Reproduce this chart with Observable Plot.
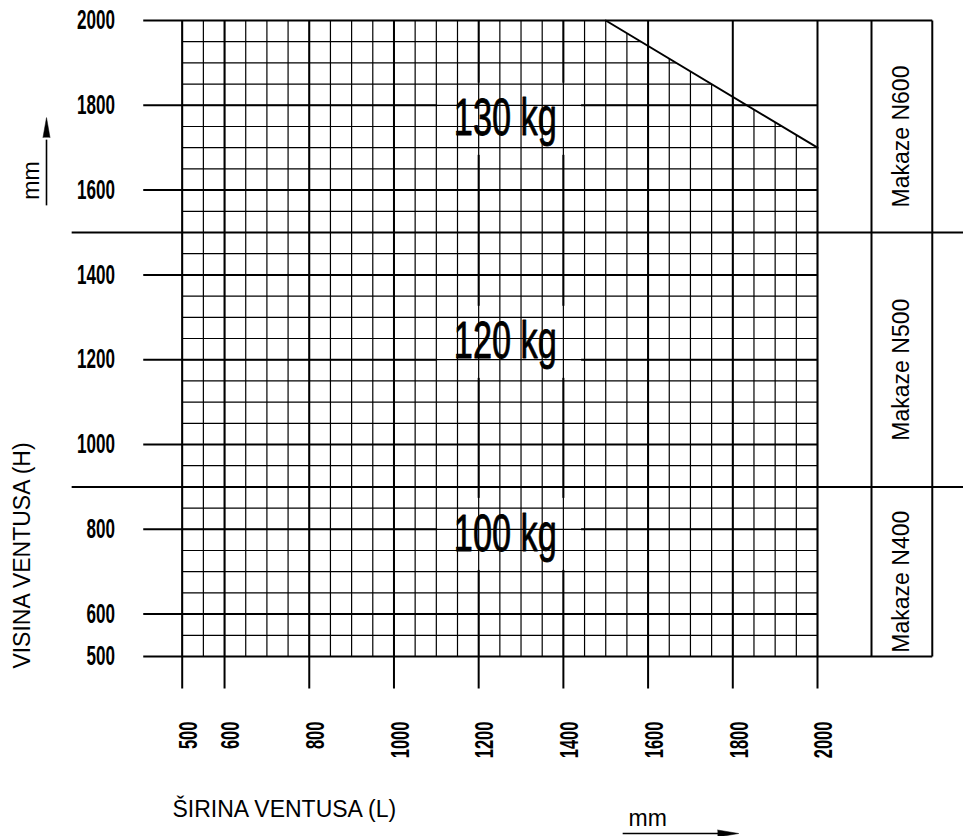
<!DOCTYPE html>
<html><head><meta charset="utf-8">
<script src="https://cdn.jsdelivr.net/npm/d3@7"></script>
<script src="https://cdn.jsdelivr.net/npm/@observablehq/plot@0.6"></script>
<style>body{margin:0;background:#fff} svg{display:block}</style>
</head><body><div id="chart"></div>
<script>
// ---- data ----
const xTicks = [500, 600, 800, 1000, 1200, 1400, 1600, 1800, 2000];
const yTicks = [500, 600, 800, 1000, 1200, 1400, 1600, 1800, 2000];
const gridStep = 50;
const limitLine = [{x: 1500, y: 2000}, {x: 2000, y: 1700}];
const loadLabels = ["130 kg", "120 kg", "100 kg"];
const loadLabelX = [1263, 1263, 1263];
const loadLabelY = [1729, 1203, 750];
const models = ["Makaze N600", "Makaze N500", "Makaze N400"];
const modelLow = [1500, 900, 500];
const modelHigh = [2000, 1500, 900];
const separators = [1500, 900];
const xTitle = "ŠIRINA VENTUSA (L)";
const yTitle = "VISINA VENTUSA (H)";
const unit = "mm";

// ---- derived structure ----
const [xMin, xMax] = [500, 2000], [yMin, yMax] = [500, 2000];
const boxX1 = 2127.5, boxX2 = 2271;     // Makaze column (mm, beyond 2000)
const leftExt = 408, sepLeft = 239, sepRight = 2360, tickBottom = 424.5;
const slope = (limitLine[1].y - limitLine[0].y) / (limitLine[1].x - limitLine[0].x);
const yLimit = x => x <= limitLine[0].x ? yMax : limitLine[0].y + (x - limitLine[0].x) * slope;
const xLimit = y => y <= limitLine[1].y ? xMax : limitLine[0].x + (y - limitLine[0].y) / slope;

const minorV = d3.range(xMin, xMax + 1, gridStep).map(v => ({x1: v, x2: v, y1: yMin, y2: yLimit(v)}));
const minorH = d3.range(yMin, yMax + 1, gridStep).map(h => ({x1: xMin, x2: xLimit(h), y1: h, y2: h}));
const majorV = xTicks.map(v => ({x1: v, x2: v, y1: tickBottom, y2: yMax}));
const majorH = yTicks.map(h => ({x1: leftExt, x2: (h === yMin || h === yMax) ? boxX2 : xMax, y1: h, y2: h}));
const sepData = separators.map(h => ({x1: sepLeft, x2: sepRight, y1: h, y2: h}));
const boxV = [boxX1, boxX2].map(v => ({x1: v, x2: v, y1: yMin, y2: yMax}));
const loads = loadLabels.map((t, i) => ({t, x: loadLabelX[i], y: loadLabelY[i]}));
const modelData = models.map((t, i) => ({t, x: (boxX1 + boxX2) / 2, y: (modelLow[i] + modelHigh[i]) / 2}));

// unit arrows (mm in chart coordinates, outside the frame)
const arrowX = {y: 82.5, x1: 1540, tip: 1814, base: 1764, half: 8.3};
const arrowY = {x: 179.6, y1: 1564, tip: 1771, base: 1724, half: 8.3};

const narrow = "'Liberation Sans Narrow','Arial Narrow','Liberation Sans',Arial,sans-serif";
const sans = "'Liberation Sans',Arial,Helvetica,sans-serif";

const chart = Plot.plot({
  width: 963, height: 836,
  marginLeft: 181.7, marginRight: 146, marginTop: 20, marginBottom: 180,
  x: {domain: [xMin, xMax], axis: null},
  y: {domain: [yMin, yMax], axis: null},
  style: {background: "#fff", fontFamily: sans, overflow: "visible"},
  marks: [
    Plot.link(majorV, {x1: "x1", x2: "x2", y1: "y1", y2: "y2", stroke: "#000", strokeWidth: 2}),
    Plot.link(majorH, {x1: "x1", x2: "x2", y1: "y1", y2: "y2", stroke: "#000", strokeWidth: 2}),
    Plot.link(sepData, {x1: "x1", x2: "x2", y1: "y1", y2: "y2", stroke: "#000", strokeWidth: 2}),
    Plot.link(boxV, {x1: "x1", x2: "x2", y1: "y1", y2: "y2", stroke: "#000", strokeWidth: 2}),
    Plot.rect(loads, {x1: 1103, x2: 1443, y1: d => d.y - 47, y2: d => d.y + 123, fill: "#fff"}),
    Plot.link(minorV, {x1: "x1", x2: "x2", y1: "y1", y2: "y2", stroke: "#000", strokeWidth: 1.2}),
    Plot.link(minorH, {x1: "x1", x2: "x2", y1: "y1", y2: "y2", stroke: "#000", strokeWidth: 1.2}),
    Plot.line(limitLine, {x: "x", y: "y", stroke: "#000", strokeWidth: 2}),
    Plot.text(loads, {x: "x", y: "y", text: "t", fontSize: 51, fontFamily: narrow,
      textAnchor: "middle", lineAnchor: "bottom", fill: "#000", stroke: "#000", strokeWidth: 0.8}),
    Plot.text(modelData, {x: "x", y: "y", text: "t", rotate: -90, dy: 10, fontSize: 23,
      textAnchor: "middle", lineAnchor: "middle", fill: "#000"}),
    Plot.text(yTicks, {y: d => d, text: d => String(d), frameAnchor: "left", dx: -67.2,
      textAnchor: "end", lineAnchor: "middle", fontSize: 27, fontWeight: "bold", fontFamily: narrow,
      fill: "#000"}),
    Plot.text(xTicks, {x: d => d, text: d => String(d), frameAnchor: "bottom", dy: 65, dx: -3,
      rotate: -90, textAnchor: "end", lineAnchor: "top", fontSize: 25, fontWeight: "bold",
      fontFamily: narrow, fill: "#000"}),
    Plot.text([yTitle], {text: d => d, frameAnchor: "bottom-left", dx: -159.2, dy: -101, rotate: -90,
      textAnchor: "middle", lineAnchor: "middle", fontSize: 23, fill: "#000"}),
    Plot.text([xTitle], {text: d => d, frameAnchor: "bottom-left", dx: -9.7, dy: 160,
      textAnchor: "start", lineAnchor: "bottom", fontSize: 23, fill: "#000"}),
    Plot.text([unit], {text: d => d, frameAnchor: "bottom-left", dx: 446.3, dy: 169,
      textAnchor: "start", lineAnchor: "bottom", fontSize: 23, fill: "#000"}),
    Plot.text([unit], {text: d => d, frameAnchor: "top-left", dx: -143.7, dy: 160, rotate: -90,
      textAnchor: "middle", lineAnchor: "bottom", fontSize: 23, fill: "#000"}),
    // unit arrows
    Plot.link([arrowX], {x1: "x1", x2: d => d.base + 5, y1: "y", y2: "y", stroke: "#000", strokeWidth: 1.6}),
    Plot.line([{x: arrowX.base, y: arrowX.y + arrowX.half}, {x: arrowX.tip, y: arrowX.y}, {x: arrowX.base, y: arrowX.y - arrowX.half}],
      {x: "x", y: "y", fill: "#000", stroke: "#000", strokeWidth: 0.5}),
    Plot.link([arrowY], {x1: "x", x2: "x", y1: "y1", y2: d => d.base - 5, stroke: "#000", strokeWidth: 1.6}),
    Plot.line([{x: arrowY.x - arrowY.half, y: arrowY.base}, {x: arrowY.x, y: arrowY.tip}, {x: arrowY.x + arrowY.half, y: arrowY.base}],
      {x: "x", y: "y", fill: "#000", stroke: "#000", strokeWidth: 0.5})
  ]
});
document.getElementById("chart").appendChild(chart);

// condense the narrow CAD-style lettering (tick labels and load labels)
d3.select(chart).selectAll("text").each(function() {
  const s = this.textContent;
  const rotated = (this.getAttribute("transform") || "").includes("rotate");
  let len = null;
  if (/^\d{3,4}$/.test(s)) len = s.length * (rotated ? 9.2 : 9.5);
  else if (/kg$/.test(s)) len = 103;
  if (len != null) {
    this.setAttribute("textLength", len);
    this.setAttribute("lengthAdjust", "spacingAndGlyphs");
  }
});
</script>
</body></html>
